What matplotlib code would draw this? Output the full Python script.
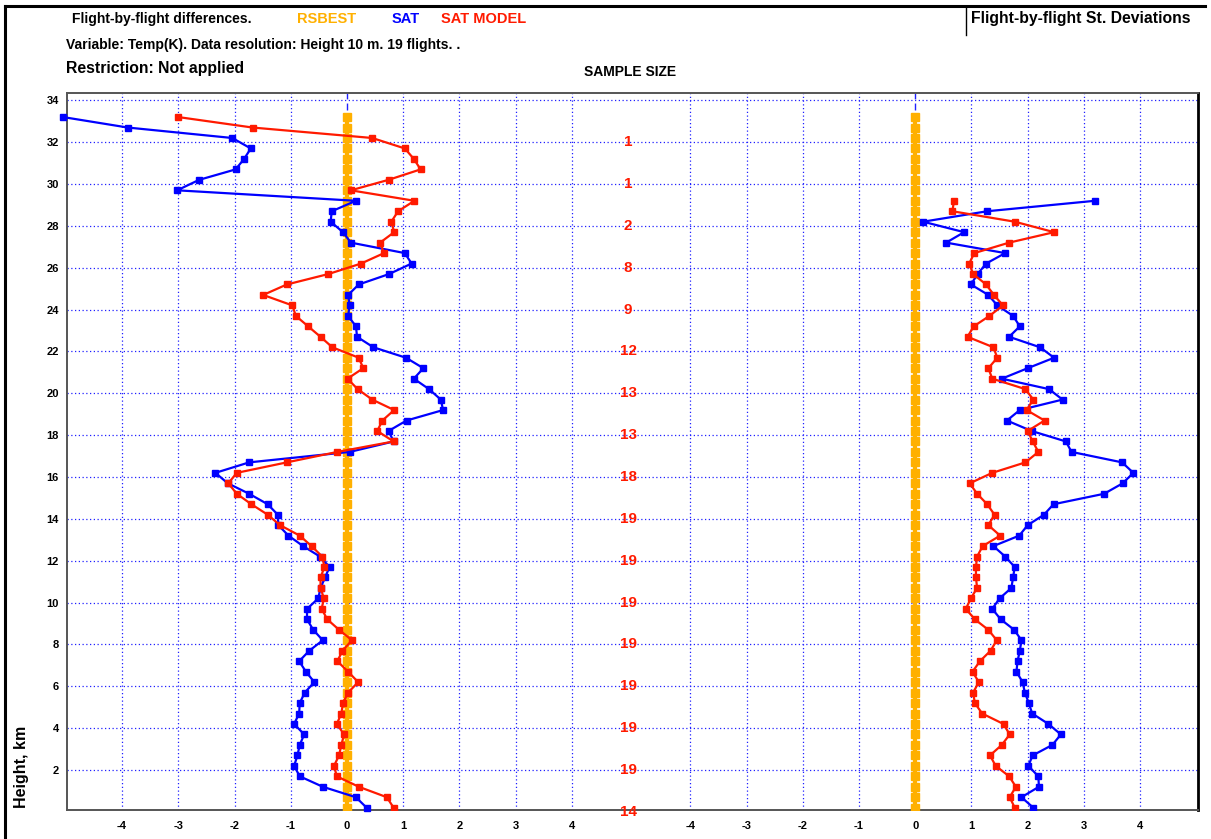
import matplotlib
matplotlib.use("Agg")
import matplotlib.pyplot as plt
from matplotlib.lines import Line2D

# ---------------- data ----------------
heights_km = [33.2, 32.7, 32.2, 31.7, 31.2, 30.7, 30.2, 29.7, 29.2, 28.7,
              28.2, 27.7, 27.2, 26.7, 26.2, 25.7, 25.2, 24.7, 24.2, 23.7,
              23.2, 22.7, 22.2, 21.7, 21.2, 20.7, 20.2, 19.7, 19.2, 18.7,
              18.2, 17.7, 17.2, 16.7, 16.2, 15.7, 15.2, 14.7, 14.2, 13.7,
              13.2, 12.7, 12.2, 11.7, 11.2, 10.7, 10.2, 9.7, 9.2, 8.7,
              8.2, 7.7, 7.2, 6.7, 6.2, 5.7, 5.2, 4.7, 4.2, 3.7,
              3.2, 2.7, 2.2, 1.7, 1.2, 0.7, 0.2]

# mean differences (K) per height level
rsbest_diff = [0.0] * len(heights_km)
sat_diff = [-5.05, -3.90, -2.04, -1.71, -1.83, -1.98, -2.63, -3.02, 0.16, -0.27,
            -0.29, -0.07, 0.07, 1.03, 1.15, 0.75, 0.21, 0.02, 0.05, 0.02,
            0.16, 0.18, 0.47, 1.05, 1.36, 1.19, 1.46, 1.67, 1.71, 1.06,
            0.74, 0.83, 0.05, -1.74, -2.34, -2.12, -1.74, -1.41, -1.23, -1.22,
            -1.04, -0.78, -0.48, -0.31, -0.39, -0.47, -0.51, -0.71, -0.71, -0.60,
            -0.43, -0.67, -0.85, -0.73, -0.58, -0.75, -0.84, -0.85, -0.94, -0.76,
            -0.84, -0.88, -0.94, -0.84, -0.43, 0.16, 0.35]
satmodel_diff = [-3.00, -1.68, 0.45, 1.03, 1.19, 1.31, 0.74, 0.07, 1.20, 0.91,
                 0.79, 0.84, 0.59, 0.66, 0.25, -0.33, -1.07, -1.49, -0.97, -0.91,
                 -0.69, -0.47, -0.26, 0.21, 0.29, 0.01, 0.19, 0.45, 0.84, 0.63,
                 0.54, 0.83, -0.17, -1.07, -1.96, -2.11, -1.96, -1.70, -1.41, -1.19,
                 -0.84, -0.63, -0.44, -0.40, -0.47, -0.47, -0.41, -0.45, -0.35, -0.14,
                 0.09, -0.08, -0.17, 0.02, 0.20, 0.02, -0.07, -0.10, -0.18, -0.05,
                 -0.10, -0.14, -0.23, -0.18, 0.21, 0.71, 0.83]

# standard deviations (K), available from 29.2 km downwards
sd_heights_km = heights_km[8:]
rsbest_sd = [0.0] * len(heights_km)
sat_sd = [3.20, 1.28, 0.14, 0.87, 0.55, 1.60, 1.26, 1.11, 0.99, 1.30,
          1.46, 1.74, 1.86, 1.67, 2.22, 2.47, 2.00, 1.54, 2.38, 2.62,
          1.86, 1.63, 2.07, 2.68, 2.78, 3.68, 3.88, 3.69, 3.36, 2.46,
          2.29, 2.00, 1.85, 1.39, 1.60, 1.77, 1.74, 1.71, 1.50, 1.37,
          1.52, 1.76, 1.89, 1.86, 1.82, 1.80, 1.91, 1.95, 2.02, 2.08,
          2.37, 2.59, 2.44, 2.09, 2.01, 2.19, 2.20, 1.89, 2.10]
satmodel_sd = [0.69, 0.66, 1.77, 2.47, 1.67, 1.05, 0.96, 1.03, 1.26, 1.40,
               1.56, 1.32, 1.04, 0.93, 1.39, 1.46, 1.30, 1.37, 1.96, 2.10,
               1.98, 2.30, 2.00, 2.09, 2.19, 1.96, 1.37, 0.97, 1.10, 1.28,
               1.41, 1.30, 1.51, 1.20, 1.10, 1.08, 1.08, 1.10, 0.99, 0.90,
               1.06, 1.30, 1.45, 1.34, 1.15, 1.02, 1.13, 1.03, 1.06, 1.19,
               1.57, 1.68, 1.54, 1.33, 1.43, 1.67, 1.79, 1.68, 1.77]

sample_heights = [32, 30, 28, 26, 24, 22, 20, 18, 16, 14, 12, 10, 8, 6, 4, 2, 0]
sample_sizes = [1, 1, 2, 8, 9, 12, 13, 13, 18, 19, 19, 19, 19, 19, 19, 19, 14]

x_tick_values = [-4, -3, -2, -1, 0, 1, 2, 3, 4]
y_tick_values = [2, 4, 6, 8, 10, 12, 14, 16, 18, 20, 22, 24, 26, 28, 30, 32, 34]

# ---------------- style ----------------
C_RS = "#FFB000"
C_SAT = "#0000FF"
C_MOD = "#FF1A00"
C_GRID = "#2020FF"
FONT = "Liberation Sans"

SD_OFFSET = 10.11      # x shift of the St. Deviations panel
XMIN, XMAX = -4.98, 15.14
YMIN, YMAX = 0.09, 34.35

W, H = 1211, 839
fig = plt.figure(figsize=(W / 100, H / 100), dpi=100)
fig.patch.set_facecolor("white")


def fx(px):
    return px / W


def fy(py):
    return 1 - py / H


ax = fig.add_axes([fx(67), fy(810), fx(1198) - fx(67), fy(93) - fy(810)])
ax.set_xlim(XMIN, XMAX)
ax.set_ylim(YMIN, YMAX)

# grid
for v in x_tick_values:
    for off in (0.0, SD_OFFSET):
        if v != 0:
            ax.axvline(v + off, color=C_GRID, lw=0.9, ls=(0, (1, 2)), zorder=1)
for v in y_tick_values:
    ax.axhline(v, color=C_GRID, lw=0.9, ls=(0, (1, 2)), zorder=1)
for off in (0.0, SD_OFFSET):
    ax.axvline(off, color=C_GRID, lw=1.0, ls=(0, (5, 3)), zorder=1)

# differences panel
ax.plot(rsbest_diff, heights_km, color=C_RS, lw=3.0, marker="s", ms=5.2,
        zorder=3)
ax.plot(sat_diff, heights_km, color=C_SAT, lw=1.6, marker="s", ms=4.2,
        zorder=4, clip_on=False)
ax.plot(satmodel_diff, heights_km, color=C_MOD, lw=1.6, marker="s", ms=4.2,
        zorder=5)

# standard deviations panel
ax.plot([v + SD_OFFSET for v in rsbest_sd], heights_km, color=C_RS, lw=3.0,
        marker="s", ms=5.2, zorder=3)
ax.plot([v + SD_OFFSET for v in sat_sd], sd_heights_km, color=C_SAT, lw=1.6,
        marker="s", ms=4.2, zorder=4)
ax.plot([v + SD_OFFSET for v in satmodel_sd], sd_heights_km, color=C_MOD,
        lw=1.6, marker="s", ms=4.2, zorder=5)

# sample size column
for h, n in zip(sample_heights, sample_sizes):
    ax.text(5.0, h, str(n), color=C_MOD, fontsize=11, fontweight="bold",
            family=FONT, ha="center", va="center", zorder=6, clip_on=False)

# ticks
xt = x_tick_values + [v + SD_OFFSET for v in x_tick_values]
ax.set_xticks(xt)
ax.set_xticklabels([str(v) for v in x_tick_values] * 2)
ax.set_yticks(y_tick_values)
ax.set_yticklabels([str(v) for v in y_tick_values])
ax.tick_params(axis="both", length=0, labelsize=8)
ax.tick_params(axis="x", pad=8)
ax.tick_params(axis="y", pad=6)
for lab in ax.get_xticklabels() + ax.get_yticklabels():
    lab.set_fontweight("bold")
    lab.set_family(FONT)

for side in ("left", "bottom", "top"):
    ax.spines[side].set_color("#555555")
    ax.spines[side].set_linewidth(1.4)
ax.spines["right"].set_color("black")
ax.spines["right"].set_linewidth(2.0)

# page frame
fig.add_artist(Line2D([fx(5), fx(1205)], [fy(6), fy(6)], color="black",
                      lw=2.2, transform=fig.transFigure))
fig.add_artist(Line2D([fx(5), fx(5)], [fy(6), fy(839)], color="black",
                      lw=2.2, transform=fig.transFigure))
fig.add_artist(Line2D([fx(966), fx(966)], [fy(8), fy(35)], color="black",
                      lw=1.0, transform=fig.transFigure))

# header texts
hkw = dict(fontweight="bold", family=FONT, va="center",
           transform=fig.transFigure)
fig.text(fx(72), fy(19), "Flight-by-flight differences.", color="black",
         fontsize=10, **hkw)
fig.text(fx(297), fy(19), "RSBEST", color=C_RS, fontsize=10.5, **hkw)
fig.text(fx(392), fy(19), "SAT", color=C_SAT, fontsize=10.5, **hkw)
fig.text(fx(441), fy(19), "SAT MODEL", color=C_MOD, fontsize=10.5, **hkw)
fig.text(fx(66), fy(45),
         "Variable: Temp(K). Data resolution: Height 10 m. 19 flights. .",
         color="black", fontsize=10, **hkw)
fig.text(fx(66), fy(68), "Restriction: Not applied", color="black",
         fontsize=11.3, **hkw)
fig.text(fx(630), fy(72), "SAMPLE SIZE", color="black", ha="center",
         fontsize=10, **hkw)
fig.text(fx(971), fy(19), "Flight-by-flight St. Deviations", color="black",
         fontsize=11.3, **hkw)
fig.text(fx(22), fy(767), "Height, km", color="black", rotation=90,
         ha="center", fontsize=11.5, fontweight="bold", family=FONT,
         va="center", transform=fig.transFigure)

fig.savefig("out.png", dpi=100, facecolor="white")
